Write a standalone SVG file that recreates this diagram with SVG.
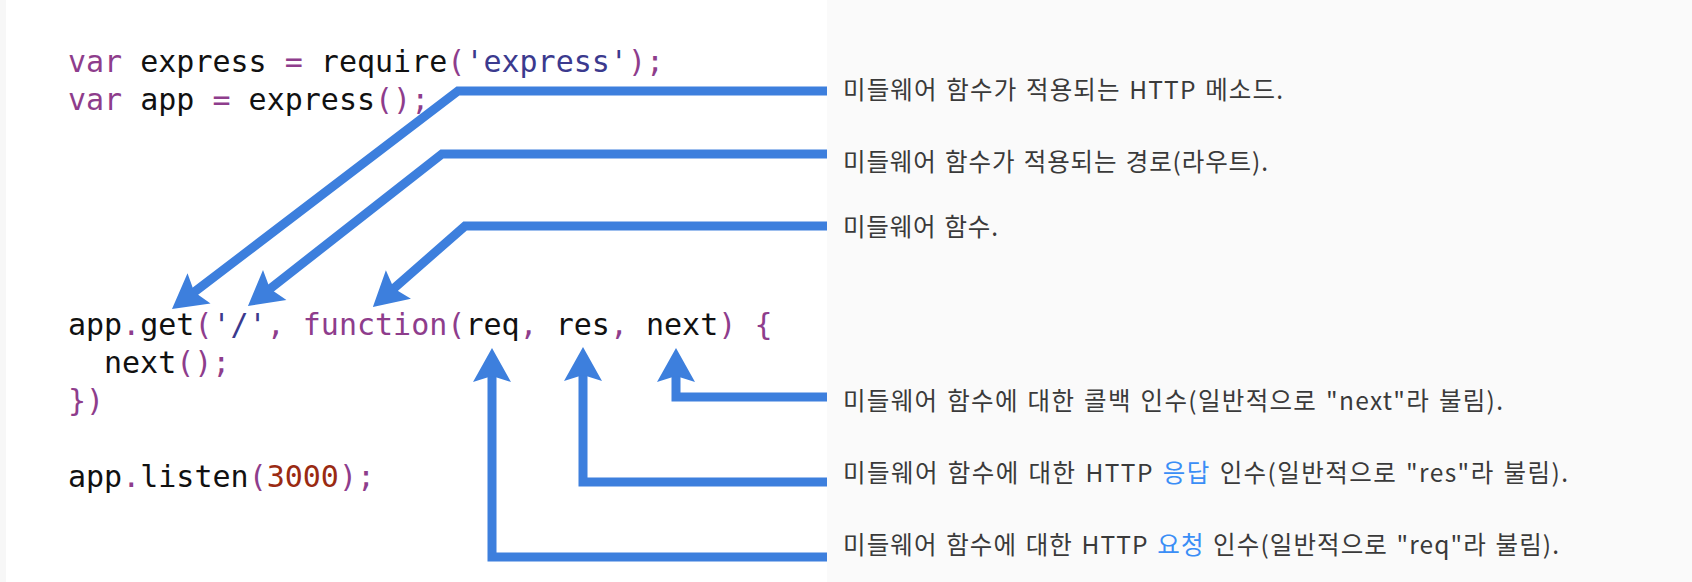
<svg xmlns="http://www.w3.org/2000/svg" width="1692" height="582" viewBox="0 0 1692 582">
  <style>
    .code { font-family: "DejaVu Sans Mono", "Liberation Mono", monospace; font-size: 30px; fill: #111111; }
    .kw { fill: #8e3d8c; }
    .pn { fill: #8e3d8c; }
    .str { fill: #3b3a8e; }
    .num { fill: #9a2a12; }
    .lbl { font-family: "Noto Sans CJK KR", "Noto Sans", sans-serif; font-size: 24.5px; fill: #3a3a3a; word-spacing: 2px; }
    .hl { fill: #3a8ef6; }
    .conn { fill: none; stroke: #3d7fdd; stroke-width: 9; stroke-linejoin: miter; marker-end: url(#ah); }
  </style>
  <defs>
    <marker id="ah" markerUnits="userSpaceOnUse" markerWidth="70" markerHeight="70" viewBox="-35 -35 70 70" refX="0" refY="0" orient="auto" overflow="visible">
      <path d="M20,0 L-14,-19 L-8,0 L-14,19 Z" fill="#3d7fdd"/>
    </marker>
  </defs>

  <rect x="0" y="0" width="1692" height="582" fill="#ffffff"/>
  <rect x="0" y="0" width="6" height="582" fill="#f7f7f7"/>
  <rect x="827" y="0" width="865" height="582" fill="#fafafa"/>

  <g id="code">
    <text class="code" x="68" y="72"><tspan class="kw">var</tspan> express <tspan class="pn">=</tspan> require<tspan class="pn">(</tspan><tspan class="str">'express'</tspan><tspan class="pn">);</tspan></text>
    <text class="code" x="68" y="110"><tspan class="kw">var</tspan> app <tspan class="pn">=</tspan> express<tspan class="pn">();</tspan></text>
    <text class="code" x="68" y="335">app<tspan class="pn">.</tspan>get<tspan class="pn">(</tspan><tspan class="str">'/'</tspan><tspan class="pn">,</tspan> <tspan class="kw">function</tspan><tspan class="pn">(</tspan>req<tspan class="pn">,</tspan> res<tspan class="pn">,</tspan> next<tspan class="pn">)</tspan> <tspan class="pn">{</tspan></text>
    <text class="code" x="104" y="373">next<tspan class="pn">();</tspan></text>
    <text class="code" x="68" y="411"><tspan class="pn">})</tspan></text>
    <text class="code" x="68" y="487">app<tspan class="pn">.</tspan>listen<tspan class="pn">(</tspan><tspan class="num">3000</tspan><tspan class="pn">);</tspan></text>
  </g>

  <g id="connectors">
    <path id="c-method" class="conn" d="M827,91 H458 L187.9,296.9"/>
    <path id="c-route" class="conn" d="M827,154 H442 L263.7,293.7"/>
    <path id="c-func" class="conn" d="M827,226 H465 L387.9,293.7"/>
    <path id="c-next" class="conn" d="M827,397 H676 V368"/>
    <path id="c-res" class="conn" d="M827,482 H583 V367"/>
    <path id="c-req" class="conn" d="M827,557 H492 V368"/>
  </g>

  <g id="label-method">
    <text class="lbl" x="843" y="99" textLength="440" lengthAdjust="spacing">미들웨어 함수가 적용되는 HTTP 메소드.</text>
  </g>
  <g id="label-route">
    <text class="lbl" x="843" y="171" textLength="425" lengthAdjust="spacing">미들웨어 함수가 적용되는 경로(라우트).</text>
  </g>
  <g id="label-func">
    <text class="lbl" x="843" y="236" textLength="155" lengthAdjust="spacing">미들웨어 함수.</text>
  </g>
  <g id="label-next">
    <text class="lbl" x="843" y="410" textLength="660" lengthAdjust="spacing">미들웨어 함수에 대한 콜백 인수(일반적으로 "next"라 불림).</text>
  </g>
  <g id="label-res">
    <text class="lbl" x="843" y="482" textLength="725" lengthAdjust="spacing">미들웨어 함수에 대한 HTTP <tspan class="hl">응답</tspan> 인수(일반적으로 "res"라 불림).</text>
  </g>
  <g id="label-req">
    <text class="lbl" x="843" y="554" textLength="716" lengthAdjust="spacing">미들웨어 함수에 대한 HTTP <tspan class="hl">요청</tspan> 인수(일반적으로 "req"라 불림).</text>
  </g>
</svg>
